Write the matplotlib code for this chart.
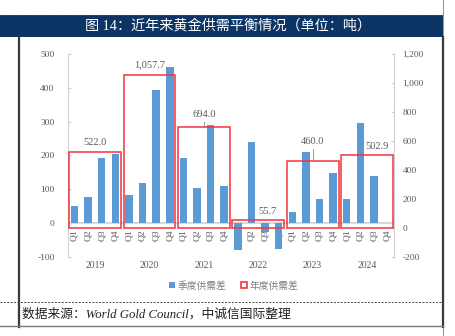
import matplotlib
matplotlib.use("Agg")
import matplotlib.pyplot as plt
from matplotlib.patches import Patch, Rectangle
from matplotlib.lines import Line2D
from matplotlib.ticker import FuncFormatter, MultipleLocator

plt.rcParams['font.family'] = ['Liberation Serif', 'Noto Sans CJK SC']

# quarterly supply-demand balance (tonnes), 2019Q1 .. 2024Q4
years = ['2019', '2020', '2021', '2022', '2023', '2024']
quarters = ['Q1', 'Q2', 'Q3', 'Q4']
quarterly = [50, 77, 191, 204,
             83, 119, 393, 462,
             192, 103, 290, 109,
             -79, 239, -26, -78,
             33, 209, 70, 148,
             70, 295, 138, 0]
annual = [522.0, 1057.7, 694.0, 55.7, 460.0, 502.9]
annual_labels = ['522.0', '1,057.7', '694.0', '55.7', '460.0', '502.9']

BLUE = '#5b9bd5'
RED = '#f4333a'
GRAY = '#595959'

fig = plt.figure(figsize=(4.56, 3.36), dpi=100)

# page decoration: title bar, frame, source note
fig.patches.append(Rectangle((0, 0.8899), 443 / 456, 0.0655, transform=fig.transFigure,
                             facecolor='#0c3464', edgecolor='none'))
fig.add_artist(Line2D([0, 443 / 456], [0.9554, 0.9554], color='#555555', lw=0.8,
                      ls=(0, (1, 1)), transform=fig.transFigure))
fig.text(0.501, 0.9226, '图 14：近年来黄金供需平衡情况（单位：吨）', color='white',
         fontsize=10.2, ha='center', va='center')
fig.add_artist(Line2D([19 / 456, 19 / 456], [0.027, 0.8899], color='#3a3a3a', lw=1.6,
                      transform=fig.transFigure))
fig.add_artist(Line2D([443 / 456, 443 / 456], [0.0, 1.0], color='#9a9a9a', lw=0.8,
                      transform=fig.transFigure))
fig.add_artist(Line2D([443 / 456, 443 / 456], [0.027, 0.8899], color='#3a3a3a', lw=1.6,
                      transform=fig.transFigure))
fig.add_artist(Line2D([0, 443 / 456], [0.030, 0.030], color='#7a7a7a', lw=1.0,
                      transform=fig.transFigure))
fig.add_artist(Line2D([0, 443 / 456], [0.101, 0.101], color='#444444', lw=0.7,
                      ls=(0, (2, 1.5)), transform=fig.transFigure))
fig.text(22 / 456, 0.0646, '数据来源：World Gold Council，中诚信国际整理', fontsize=9.2,
         style='italic', color='#222222', ha='left', va='center')

ax = fig.add_axes([0.1485, 0.236, 0.7162, 0.6033])
ax2 = ax.twinx()

n = len(quarterly)
xq = list(range(n))
ax.bar(xq, quarterly, width=0.55, color=BLUE, zorder=3)
ax.axhline(0, color='#d9d9d9', lw=1.6, zorder=2)
ax.set_xlim(-0.5, n - 0.5)
ax.set_ylim(-100, 500)
ax.yaxis.set_major_locator(MultipleLocator(100))

centers = [4 * i + 1.5 for i in range(len(years))]
ax2.bar(centers, annual, width=3.8, facecolor='none', edgecolor=RED, lw=1.1, zorder=4)
ax2.set_ylim(-200, 1200)
ax2.yaxis.set_major_locator(MultipleLocator(200))

fmt = FuncFormatter(lambda v, p: f'{v:,.0f}')
for a, side in ((ax, 'left'), (ax2, 'right')):
    for s in ('top', 'bottom', 'left', 'right'):
        a.spines[s].set_visible(False)
    a.spines[side].set_visible(True)
    a.spines[side].set_color('#d0d0d0')
    a.spines[side].set_linewidth(0.8)
    a.yaxis.set_major_formatter(fmt)
    a.tick_params(axis='y', direction='in', length=2.5, color='#d0d0d0',
                  labelsize=6.8, labelcolor=GRAY)
ax.tick_params(axis='y', pad=9.5)
ax2.tick_params(axis='y', pad=6)
ax.set_xticks([])

# quarter labels along zero line, year labels below
for i in xq:
    ax.annotate(quarters[i % 4], (i, 0), xytext=(0, -4.5), textcoords='offset points',
                rotation=90, ha='center', va='top', fontsize=6.8, color=GRAY, zorder=1)
for c, y in zip(centers, years):
    ax.text(c, -0.041, y, transform=ax.get_xaxis_transform(), ha='center', va='center',
            fontsize=7, color=GRAY)

# annual value labels, two of them with a short leader line
offsets = [(0, 7), (0, 7), (0, 9.5), (6.3, 5.7), (0, 14), (7, 6.4)]
for c, v, lab, (dx, dy) in zip(centers, annual, annual_labels, offsets):
    ax2.annotate(lab, (c, v), xytext=(dx, dy), textcoords='offset points',
                 ha='center', va='center', fontsize=7.5, color=GRAY)
for k, lead in ((2, 35), (4, 85)):
    ax2.plot([centers[k], centers[k]], [annual[k], annual[k] + lead],
             color='#8a8a8a', lw=0.6, zorder=5)

handles = [Patch(facecolor=BLUE, edgecolor='none', label='季度供需差'),
           Patch(facecolor='none', edgecolor=RED, lw=1.2, label='年度供需差')]
fig.legend(handles=handles, loc='center', bbox_to_anchor=(0.513, 0.150), ncol=2,
           frameon=False, handlelength=0.6, handleheight=0.6, handletextpad=0.3,
           columnspacing=1.5, prop={'family': ['Noto Sans CJK SC'], 'size': 7},
           labelcolor='#7f7f7f')

fig.savefig('out.png', dpi=100)
